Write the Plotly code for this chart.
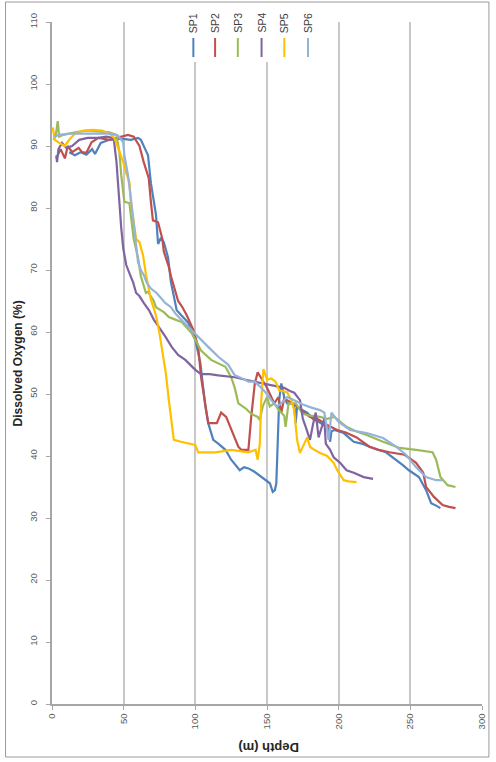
import plotly.graph_objects as go

# Dissolved oxygen profiles: (depth in m, dissolved oxygen in %)
sp1 = [(12, 89), (16, 88.5), (20, 89), (24, 88.6), (28, 89.5), (30, 88.7), (34, 90.5), (40, 91),
       (48, 91.2), (55, 91), (60, 91.3), (62, 91), (65, 89.5), (67, 88.5), (69, 84), (72.5, 79),
       (74, 74.2), (76, 75.2), (78, 74.5), (81, 72), (83, 68), (86, 65), (87, 63.5), (91, 62.5),
       (95, 61.5), (100, 58.7), (103.5, 55), (105, 52), (107, 48), (109, 45.3), (112.5, 42.6),
       (116, 42), (121, 41), (125, 39.4), (131, 37.7), (134, 38.2), (137, 38), (141, 37.5),
       (146, 36.6), (150, 36), (152, 35.6), (154, 34.2), (155.5, 34.5), (156.5, 35.6), (157.5, 41),
       (158.5, 49), (160, 51.7), (162, 49.5), (164, 48.5), (167, 48.5), (169, 48), (170, 45.3),
       (171, 48), (174, 47.5), (178, 47), (182, 46), (186, 45.5), (190, 45), (193, 44.5),
       (194, 42.3), (195, 44), (197, 44.2), (203.5, 43.7), (210.5, 42.3), (216, 42), (221.5, 41.5),
       (227, 41), (233, 40.6), (240, 39.4), (245, 38.5), (249, 37.7), (256, 36.6), (261, 34.5),
       (264.5, 32.4), (268, 32), (271, 31.6)]

sp2 = [(3, 88), (6, 89.5), (9, 88), (11, 90), (14, 89), (18.6, 89.7), (21, 89), (24, 88.9),
       (27.6, 90.6), (32.4, 91.3), (40, 91), (48, 91.5), (53, 91.8), (57, 91.5), (61, 90),
       (64, 87.4), (67.5, 84.8), (69, 81), (70.4, 78), (74, 77.7), (77, 75), (78, 73), (81.5, 70.5),
       (83, 69), (86, 66.5), (88, 65), (91, 64), (94, 62.7), (98.7, 60.3), (102, 57.6), (104, 52.7),
       (107, 48), (109, 45.3), (115, 45.3), (118, 47), (121.5, 46.3), (125, 44.2), (130, 41.5),
       (132, 41), (137, 41), (139, 46.3), (141.5, 51.7), (143.5, 53.5), (145.5, 52.7), (150, 51),
       (155, 48.5), (158, 49.5), (160, 47), (162, 49.3), (164, 49), (171, 48), (176, 47),
       (180, 46.3), (185, 46), (192, 45), (199, 44.2), (205, 43.8), (212.5, 43), (217, 42.3),
       (221.5, 41.5), (228, 41), (235.5, 40.6), (246, 40.2), (250, 39.5), (254, 38.9), (259, 37.3),
       (261, 35), (266.5, 33.4), (272.5, 32.1), (277, 31.8), (281.5, 31.6)]

sp3 = [(1, 91), (2.5, 91.5), (4, 94), (5, 91.5), (8, 91.8), (12, 92), (18, 92.3), (25, 92.5),
       (32, 92.4), (40, 92.2), (45, 91.8), (47, 89), (48.3, 85.3), (50.5, 81), (54, 80.8), (55, 79),
       (57, 75), (60, 72), (61, 70.5), (62, 69), (65.5, 66.3), (67, 66.5), (71, 65), (72.5, 64),
       (78, 63.2), (81.5, 62.4), (86, 62), (90.5, 61.6), (97.5, 59.8), (104, 57), (111, 55.5),
       (116, 55), (121, 54.4), (125, 52.7), (127.5, 51), (130, 48.5), (135, 47.7), (139, 46.8),
       (143.5, 46.3), (145, 45.8), (147, 48), (150, 49.5), (152, 48), (155, 48.5), (158, 47.5),
       (162, 46.5), (163, 44.7), (165, 48.5), (170, 48.5), (175, 46.8), (180, 46.5), (187, 46.3),
       (192, 46), (197, 46.3), (205.5, 44.7), (212, 44), (219.5, 43.4), (231, 42.3), (242.5, 41.3),
       (254, 41), (265.5, 40.6), (268, 39.4), (271, 36.6), (276, 35.3), (281.5, 35)]

sp4 = [(3, 88.5), (3.5, 87.4), (4.5, 89.5), (7, 90.5), (10, 89.7), (14, 90), (19, 91), (25, 91.3),
       (32, 91.3), (38, 91.5), (43, 91.3), (45, 87.4), (46, 84.2), (47, 80.5), (48.3, 76.8),
       (49.7, 73.5), (51.8, 70.8), (54, 69.5), (56.6, 68), (58.7, 66.3), (61, 65.8), (64, 64.7),
       (67.7, 63.5), (71, 62), (74.6, 60.8), (79, 59.3), (83.5, 57.6), (88, 56.3), (93, 55.5),
       (97, 54.5), (100, 53.9), (104, 53.2), (110, 53.2), (116, 53), (122, 52.8), (127.5, 52.7),
       (135, 52.3), (141.5, 52), (147, 51.7), (152.5, 51.4), (157, 51.2), (162, 51), (166, 50.5),
       (169, 50.2), (173, 49), (175, 46), (177, 44.7), (180, 42.6), (182, 45), (184, 47), (186, 43),
       (188, 44.5), (190, 46), (191, 42), (194, 41), (196.5, 39.8), (201, 38.9), (205.5, 37.7),
       (210.5, 37.3), (217.5, 36.6), (224, 36.3)]

sp5 = [(0.5, 93), (2, 91), (5, 90.5), (9, 90), (12, 91), (16, 92), (22, 92.5), (28, 92.6),
       (35, 92.5), (40, 92), (43.5, 91.3), (46, 89.7), (49.7, 87.4), (51.5, 85.8), (54, 84.2),
       (55, 81), (57, 77.7), (58.7, 75), (61, 74.5), (63.5, 72.4), (65.6, 69.2), (69, 65.2),
       (71, 63.8), (72.5, 62.7), (74.6, 60.3), (76.6, 57.6), (79.4, 53.4), (81.5, 49), (83.5, 44.7),
       (85, 42.6), (90, 42.3), (97, 42), (100, 41.8), (102, 40.6), (114, 40.6), (125, 41),
       (137, 40.6), (142, 41), (143.5, 39.4), (145, 42), (146, 49), (147.5, 54), (150, 52.3),
       (153, 52.5), (156, 52), (158.5, 50.6), (164, 50.3), (167, 49), (169, 47.4), (171, 42.6),
       (173, 40.5), (176, 42), (178, 43), (180, 41.5), (183, 41), (187, 40.5), (192, 40),
       (196.5, 38.9), (199, 37.7), (203.5, 36.1), (207, 35.9), (212.5, 35.8)]

sp6 = [(1, 91.5), (5, 91.8), (12, 92), (20, 92), (30, 92.1), (40, 92), (46, 91.7), (49.7, 90.6),
       (50.5, 88.5), (53, 85.3), (55, 81.6), (57, 77.7), (58.7, 73.5), (60, 71.3), (62, 70),
       (64, 69.2), (66, 68), (69, 67), (73, 66.3), (76, 65.5), (79, 64.7), (83, 64), (86, 63),
       (90, 62), (95, 60.8), (102, 59.2), (109, 57.6), (116, 56), (123, 54.7), (127.5, 53),
       (132, 52.6), (137, 52), (141.5, 52), (146, 51), (150, 50), (153, 49), (157, 48), (160, 48.5),
       (164, 49.5), (169, 49), (175, 48.3), (181, 47.8), (187, 47.4), (190, 47), (193, 42.6),
       (195, 47), (200, 45.5), (208, 44.2), (219.5, 43.7), (231, 42.9), (240, 41.5), (247, 40.2),
       (254, 38.2), (261, 36.6), (268, 36.1), (272.5, 36.1)]

series_names = ["SP1", "SP2", "SP3", "SP4", "SP5", "SP6"]
series_colors = ["#4F81BD", "#C0504D", "#9BBB59", "#8064A2", "#FFC000", "#95B3D7"]
series_data = [sp1, sp2, sp3, sp4, sp5, sp6]

depth_ticks = [0, 50, 100, 150, 200, 250, 300]
oxygen_ticks = [0, 10, 20, 30, 40, 50, 60, 70, 80, 90, 100, 110]

# figure geometry (pixels)
W, H = 496, 762
L, R, T, B = 52, 487, 22, 704
PW, PH = R - L, B - T


def px(xp):
    return (xp - L) / PW


def py(yp):
    return (B - yp) / PH


fig = go.Figure()
for name, color, data in zip(series_names, series_colors, series_data):
    fig.add_trace(go.Scatter(
        x=[d for d, _ in data], y=[o for _, o in data], mode="lines", name=name,
        line=dict(color=color, width=2.2), showlegend=False))

tick_font = dict(family="Liberation Sans, Arial, sans-serif", size=9.5, color="#595959")
title_font = dict(family="Liberation Sans, Arial, sans-serif", color="#262626")

fig.update_layout(
    width=W, height=H,
    margin=dict(l=L, r=W - R, t=T, b=H - B, pad=0),
    paper_bgcolor="white", plot_bgcolor="white",
    xaxis=dict(range=[0, 300], tickvals=depth_ticks, ticktext=[str(v) for v in depth_ticks],
               tickangle=-90, tickfont=tick_font, showgrid=True, gridcolor="#c8c8c8",
               gridwidth=1.5, showline=True, linecolor="#a6a6a6", linewidth=1.5,
               ticks="outside", ticklen=4, tickcolor="#a6a6a6", zeroline=False),
    yaxis=dict(range=[0, 110], tickvals=oxygen_ticks, ticktext=[str(v) for v in oxygen_ticks],
               tickangle=-90, tickfont=tick_font, showgrid=False, showline=True,
               linecolor="#a6a6a6", linewidth=1.5, ticks="outside", ticklen=4,
               tickcolor="#a6a6a6", zeroline=False, ticklabelstandoff=5),
)

shapes = []
# outer chart frame
shapes.append(dict(type="rect", xref="paper", yref="paper", x0=px(5), x1=px(494),
                   y0=py(757), y1=py(2), line=dict(color="#9a9a9a", width=1),
                   fillcolor="rgba(0,0,0,0)", layer="above"))
# legend background
shapes.append(dict(type="rect", xref="paper", yref="paper", x0=px(184), x1=px(326),
                   y0=py(62), y1=py(21), line=dict(width=0), fillcolor="white", layer="above"))

annotations = []
legend_x = [195, 217, 240, 264, 287, 311]
for name, color, lx in zip(series_names, series_colors, legend_x):
    shapes.append(dict(type="line", xref="paper", yref="paper", x0=px(lx), x1=px(lx),
                       y0=py(57), y1=py(38), line=dict(color=color, width=2), layer="above"))
    annotations.append(dict(text=name, xref="paper", yref="paper", x=px(lx), y=py(23),
                            xanchor="center", yanchor="middle", textangle=-90, showarrow=False,
                            font=dict(family="Liberation Sans, Arial, sans-serif", size=10.5,
                                      color="#404040")))

annotations.append(dict(text="<b>Dissolved Oxygen (%)</b>", xref="paper", yref="paper",
                        x=px(18), y=py(363), xanchor="center", yanchor="middle", textangle=-90,
                        showarrow=False, font=dict(size=12, **title_font)))
annotations.append(dict(text="<b>Depth (m)</b>", xref="paper", yref="paper",
                        x=px(271), y=py(748), xanchor="center", yanchor="middle", textangle=180,
                        showarrow=False, font=dict(size=13, **title_font)))

fig.update_layout(shapes=shapes, annotations=annotations)

fig.write_html("out.html")
